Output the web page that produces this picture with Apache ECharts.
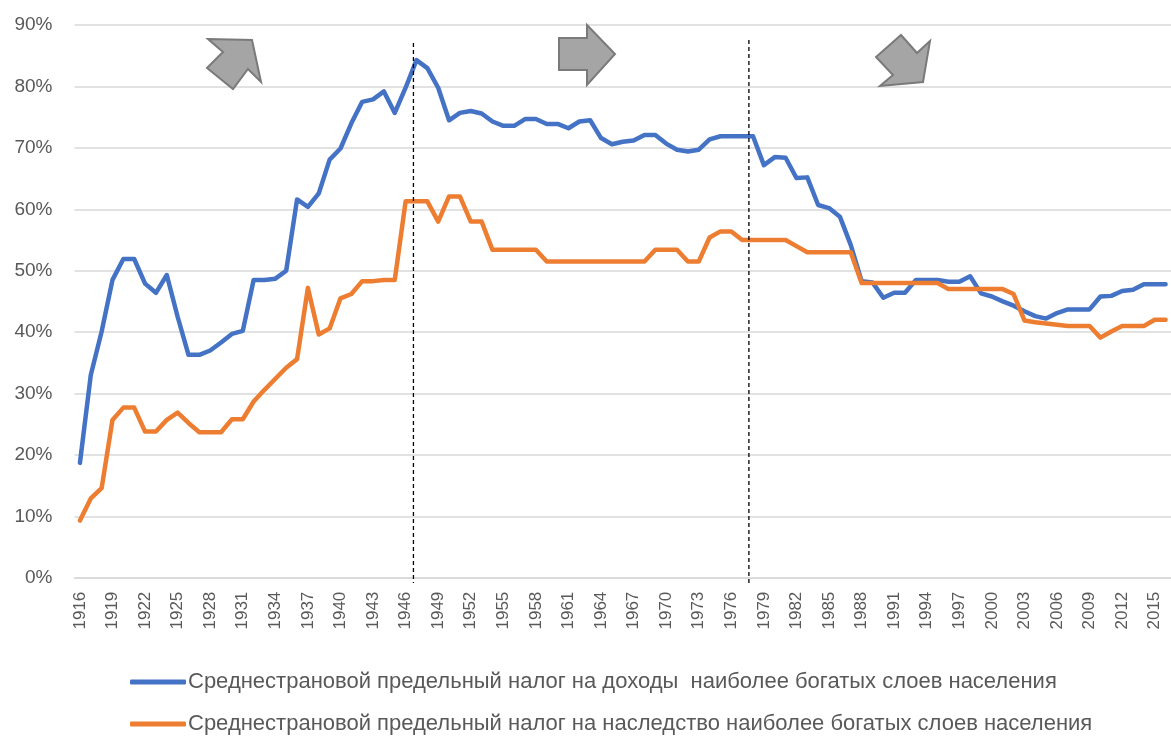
<!DOCTYPE html>
<html>
<head>
<meta charset="utf-8">
<script src="https://cdn.jsdelivr.net/npm/echarts@6/dist/echarts.min.js"></script>
<style>
html,body{margin:0;padding:0;background:#fff;}
#chart{width:1171px;height:736px;}
</style>
</head>
<body>
<div id="chart"></div>
<script>
var years = [];
for (var yr = 1916; yr <= 2016; yr++) years.push(String(yr));

var incomeTax = [
 18.7,33.0,40.1,48.5,51.9,51.9,47.9,46.4,49.3,42.5,
 36.3,36.3,37.0,38.3,39.7,40.2,48.5,48.5,48.7,50.0,
 61.6,60.4,62.6,68.1,69.9,74.0,77.5,77.9,79.2,75.7,
 79.8,84.3,83.0,79.8,74.5,75.7,76.0,75.6,74.3,73.6,
 73.6,74.7,74.7,73.9,73.9,73.2,74.3,74.5,71.6,70.6,
 71.0,71.2,72.1,72.1,70.7,69.7,69.4,69.7,71.4,71.9,
 71.9,71.9,71.9,67.2,68.5,68.4,65.1,65.2,60.7,60.2,
 58.8,54.2,48.3,48.1,45.6,46.4,46.4,48.5,48.5,48.5,
 48.2,48.2,49.1,46.3,45.8,45.0,44.3,43.4,42.6,42.2,
 43.1,43.7,43.7,43.7,45.8,45.9,46.7,46.9,47.8,47.8,
 47.8
];

var inheritanceTax = [
 9.3,12.9,14.6,25.7,27.7,27.7,23.8,23.8,25.7,26.9,
 25.2,23.7,23.7,23.7,25.8,25.8,28.7,30.6,32.4,34.2,
 35.6,47.2,39.6,40.6,45.5,46.2,48.3,48.3,48.5,48.5,
 61.3,61.3,61.3,58.0,62.1,62.1,58.0,58.0,53.4,53.4,
 53.4,53.4,53.4,51.5,51.5,51.5,51.5,51.5,51.5,51.5,
 51.5,51.5,51.5,53.4,53.4,53.4,51.5,51.5,55.4,56.4,
 56.4,55.0,55.0,55.0,55.0,55.0,54.0,53.0,53.0,53.0,
 53.0,53.0,48.0,48.0,48.0,48.0,48.0,48.0,48.0,48.0,
 47.0,47.0,47.0,47.0,47.0,47.0,46.2,41.9,41.6,41.4,
 41.2,41.0,41.0,41.0,39.1,40.1,41.0,41.0,41.0,42.0,
 42.0
];

var seriesNames = [
 'Среднестрановой предельный налог на доходы  наиболее богатых слоев населения',
 'Среднестрановой предельный налог на наследство наиболее богатых слоев населения'
];

var yTicks = { min: 0, max: 90, interval: 10 };

var chart = echarts.init(document.getElementById('chart'), null, {renderer:'canvas'});
var labelColor = '#595959';
var fontFam = '"Liberation Sans", Arial, sans-serif';

var option = {
  animation: false,
  backgroundColor: '#ffffff',
  grid: { left: 74.5, top: 25.1, width: 1098, height: 552.6, containLabel: false },
  xAxis: {
    type: 'category',
    data: years,
    boundaryGap: true,
    axisLine: { show: true, lineStyle: { color: '#d9d9d9', width: 1.5 } },
    axisTick: { show: false },
    axisLabel: {
      interval: 2, rotate: 90, margin: 14,
      color: labelColor, fontSize: 17, fontFamily: fontFam
    },
    splitLine: { show: false }
  },
  yAxis: {
    type: 'value',
    min: yTicks.min, max: yTicks.max, interval: yTicks.interval,
    axisLine: { show: false },
    axisTick: { show: false },
    axisLabel: { formatter: '{value}%', margin: 22, color: labelColor, fontSize: 19, fontFamily: fontFam },
    splitLine: { lineStyle: { color: '#d9d9d9', width: 1.5 } }
  },
  legend: [
    {
      data: [seriesNames[0]], left: 130, top: 671, orient: 'horizontal', padding: 0,
      icon: 'roundRect', itemWidth: 56, itemHeight: 5, itemGap: 0,
      textStyle: { color: labelColor, fontSize: 22, fontFamily: fontFam, padding: [0,0,0,-3] }
    },
    {
      data: [seriesNames[1]], left: 130, top: 713, orient: 'horizontal', padding: 0,
      icon: 'roundRect', itemWidth: 56, itemHeight: 5, itemGap: 0,
      textStyle: { color: labelColor, fontSize: 22, fontFamily: fontFam, padding: [0,0,0,-3] }
    }
  ],
  series: [
    {
      name: seriesNames[0], type: 'line', data: incomeTax,
      symbol: 'none', smooth: false,
      lineStyle: { color: '#4472c4', width: 4.5, join: 'round', cap: 'round' },
      itemStyle: { color: '#4472c4' }
    },
    {
      name: seriesNames[1], type: 'line', data: inheritanceTax,
      symbol: 'none', smooth: false,
      lineStyle: { color: '#ed7d31', width: 4.5, join: 'round', cap: 'round' },
      itemStyle: { color: '#ed7d31' }
    }
  ]
};
chart.setOption(option);

function xAt(a, b, frac) {
  var p1 = chart.convertToPixel({xAxisIndex:0}, a);
  var p2 = chart.convertToPixel({xAxisIndex:0}, b);
  return p1 + (p2 - p1) * frac;
}
var x1 = xAt('1946', '1947', 0.72);
var x2 = xAt('1977', '1978', 0.62);
var arrowStyle = { fill: '#a5a5a5', stroke: '#7a7a7a', lineWidth: 2 };
chart.setOption({
  graphic: [
    { type: 'line', shape: { x1: x1, y1: 43, x2: x1, y2: 583 }, style: { stroke: '#000', lineWidth: 1.3, lineDash: [4, 3] }, z: 10 },
    { type: 'line', shape: { x1: x2, y1: 40, x2: x2, y2: 583 }, style: { stroke: '#000', lineWidth: 1.3, lineDash: [4, 3] }, z: 10 },
    { type: 'polygon', shape: { points: [[208,39],[252,40],[261,82],[248,69],[233,89],[207,68],[223,52]] }, style: arrowStyle, z: 10 },
    { type: 'polygon', shape: { points: [[559,38],[587,38],[587,25],[615,54],[587,85],[587,70],[559,70]] }, style: arrowStyle, z: 10 },
    { type: 'polygon', shape: { points: [[901,35],[917,53],[930,41],[923,82],[880,86],[893,75],[876,57]] }, style: arrowStyle, z: 10 }
  ]
});
</script>
</body>
</html>
